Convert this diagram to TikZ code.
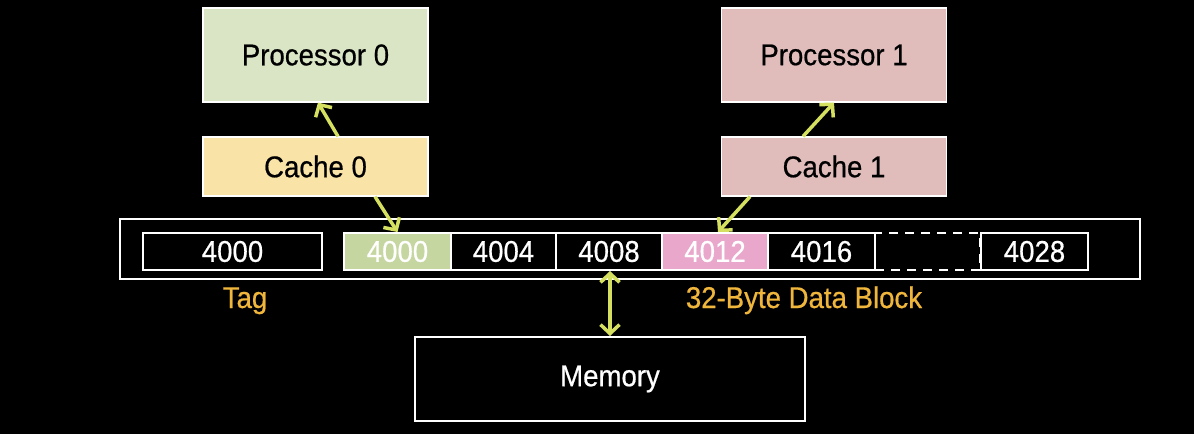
\documentclass[tikz,border=0pt]{standalone}
\usepackage{fontspec}
\setmainfont{Liberation Sans}[FakeStretch=0.92,FakeBold=0.6]
\usetikzlibrary{arrows.meta,positioning}
\definecolor{procgreen}{HTML}{D9E5C5}
\definecolor{cacheyellow}{HTML}{FAE3A6}
\definecolor{procpink}{HTML}{E0BCBB}
\definecolor{cellgreen}{HTML}{C5D6A0}
\definecolor{cellpink}{HTML}{E9A7CC}
\definecolor{linkyellow}{HTML}{D6E060}
\definecolor{tagorange}{HTML}{F0B63C}

\begin{document}
\begin{tikzpicture}[
  x=1pt, y=-1pt,
  box/.style={draw=white, line width=1.2pt, minimum width=225pt, align=center, font=\fontsize{30}{36}\selectfont},
  cell/.style={draw=white, line width=2pt, minimum height=37pt, inner sep=0pt, text=white, font=\fontsize{30}{36}\selectfont},
  lbl/.style={text=tagorange, anchor=base, font=\fontsize{30}{36}\selectfont},
  link/.style={linkyellow, line width=3.5pt, -{Straight Barb[length=9pt,width=19pt]}}
]
  \fill[black] (0,0) rectangle (1194,434);
  \useasboundingbox (0,0) rectangle (1194,434);

  % processors and caches
  \node[box, fill=procgreen, minimum height=94pt] (P0) at (315.5,55) {Processor 0};
  \node[box, fill=cacheyellow, minimum height=59pt] (C0) at (315.5,166.5) {Cache 0};
  \node[box, fill=procpink, minimum height=94pt] (P1) at (834,55) {Processor 1};
  \node[box, fill=procpink, minimum height=59pt] (C1) at (834,166.5) {Cache 1};

  % cache line
  \node[draw=white, line width=2.5pt, minimum width=1020pt, minimum height=60pt] (line) at (630,249) {};
  \node[cell, minimum width=179pt] (tag) at (232.5,251.5) {4000};
  \node[cell, fill=cellgreen, minimum width=107pt] (D0) at (397.5,251.5) {4000};
  \node[cell, minimum width=105pt] (D1) at (503.5,251.5) {4004};
  \node[cell, minimum width=106pt] (D2) at (609,251.5) {4008};
  \node[cell, fill=cellpink, minimum width=106pt] (D3) at (715,251.5) {4012};
  \node[cell, minimum width=107pt] (D4) at (821.5,251.5) {4016};
  \node[cell, dashed, dash pattern=on 9pt off 7pt, minimum width=105pt] (D5) at (927.5,251.5) {};
  \node[cell, minimum width=107pt] (D7) at (1034.5,251.5) {4028};

  \node[lbl] (taglbl) at (245,308) {Tag};
  \node[lbl] (blocklbl) at (804,308) {32-Byte Data Block};

  % memory
  \node[box, minimum width=390pt, minimum height=84pt, line width=2pt] (mem) at (610,379) {\textcolor{white}{Memory}};

  \draw[link] ([xshift=22.5pt]C0.north) -- ([xshift=2.5pt]P0.south);
  \draw[link] ([xshift=59.5pt]C0.south) -- (D0.north);
  \draw[link] ([xshift=-31pt]C1.north) -- (P1.south);
  \draw[link] ([xshift=-84pt]C1.south) -- ([xshift=3pt]D3.north);
  \draw[link, {Straight Barb[length=9pt,width=19pt]}-{Straight Barb[length=9pt,width=19pt]}] (mem.north) -- (mem.north |- D2.south);
\end{tikzpicture}
\end{document}
